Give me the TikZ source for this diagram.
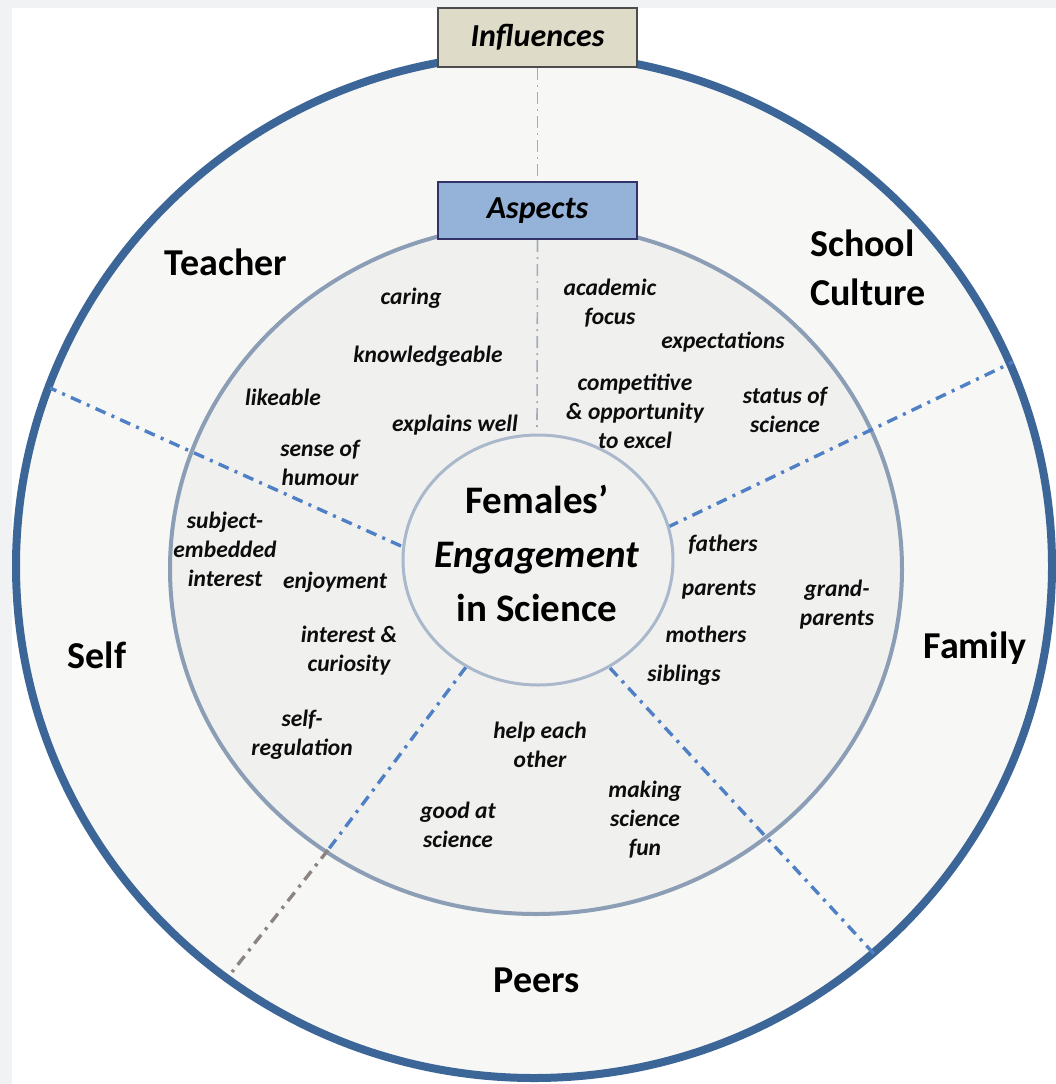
\documentclass[tikz,border=0pt]{standalone}
\usepackage{fontspec}
\setmainfont{Carlito}
\definecolor{framegray}{HTML}{F1F2F4}
\definecolor{outerfill}{HTML}{F7F7F5}
\definecolor{midfill}{HTML}{F0F0EF}
\definecolor{innerfill}{HTML}{F1F1F0}
\definecolor{outerline}{HTML}{3C6598}
\definecolor{midline}{HTML}{8C9DB6}
\definecolor{innerline}{HTML}{AAB8CB}
\definecolor{dashblue}{HTML}{4F7FC4}
\definecolor{dashbrown}{HTML}{8C8480}
\definecolor{vertgray}{HTML}{A5ACB8}
\definecolor{inflfill}{HTML}{DEDBC8}
\definecolor{aspfill}{HTML}{95B3D9}
\begin{document}
\begin{tikzpicture}[x=1pt,y=-1pt,
  lab/.style={font=\fontsize{23.5}{29}\selectfont\bfseries\itshape, align=center, inner sep=0pt, text=black!95},
  infl/.style={font=\fontsize{38}{49}\selectfont\bfseries, inner sep=0pt, text=black},
  divider/.style={line width=3.4pt, dash pattern=on 11pt off 6.5pt on 3pt off 6.5pt},
  vdiv/.style={draw=vertgray, line width=1.6pt, dash pattern=on 12pt off 5pt on 2pt off 5pt},
  headbox/.style={draw=black!70, line width=2pt, minimum width=199pt, inner sep=0pt,
                  font=\fontsize{32}{36}\selectfont\bfseries\itshape}]
\useasboundingbox (0,0) rectangle (1056,1084);
\fill[framegray] (0,0) rectangle (1056,1084);
\fill[white] (12,8) rectangle (1056,1084);
% rings
\draw[line width=8pt, draw=outerline, fill=outerfill] (534,566) ellipse [x radius=518pt, y radius=512pt];
\draw[line width=4pt, draw=midline, fill=midfill] (536,569) ellipse [x radius=366pt, y radius=345pt];
% divider coordinates
\coordinate (ulin) at (401,546);  \coordinate (ulout) at (50,388);
\coordinate (urin) at (668,527);  \coordinate (urout) at (1013,362);
\coordinate (llin) at (466,667);  \coordinate (llmid) at (328,850); \coordinate (llout) at (232,972);
\coordinate (lrin) at (610,668);  \coordinate (lrout) at (875,955);
\coordinate (vend) at (537,430);
\draw[divider, draw=dashblue] (ulin) -- (ulout);
\draw[divider, draw=dashblue] (urin) -- (urout);
\draw[divider, draw=dashblue] (llin) -- (llmid);
\draw[divider, draw=dashbrown] (llmid) -- (llout);
\draw[divider, draw=dashblue] (lrin) -- (lrout);
% centre
\draw[line width=3pt, draw=innerline, fill=innerfill] (538,560) ellipse [x radius=135pt, y radius=125pt];
\node[font=\fontsize{39}{54}\selectfont\bfseries, align=center, inner sep=0pt] (centre) at (537,553)
  {Females’\\\textit{Engagement}\\in Science};
% header boxes
\node[headbox, fill=inflfill, minimum height=59pt] (infl) at (537.5,37.5) {Influences};
\node[headbox, fill=aspfill, draw=black!65!blue!60!gray, minimum height=57pt] (asp) at (537.5,210.5) {Aspects};
\draw[vdiv] (infl.south) -- (asp.north);
\draw[vdiv] (asp.south) -- (vend);
% influences
\node[infl] (teacher) at (226,262) {Teacher};
\node[infl, align=left] (school) at (868,268) {School\\Culture};
\node[infl] (self) at (97,655) {Self};
\node[infl] (family) at (975,648) {Family};
\node[infl] (peers) at (537,980) {Peers};
% teacher aspects
\node[lab] (caring) at (411,298) {caring};
\node[lab] (knowl) at (428,356) {knowledgeable};
\node[lab] (likeable) at (283,397) {likeable};
\node[lab] (explains) at (455,425) {explains well};
\node[lab] (humour) at (320,463) {sense of\\humour};
% school culture aspects
\node[lab] (academic) at (610,303) {academic\\focus};
\node[lab] (expect) at (723,342) {expectations};
\node[lab] (compet) at (635,411) {competitive\\\& opportunity\\to excel};
\node[lab] (status) at (785,410) {status of\\science};
% self aspects
\node[lab] (subject) at (225,549) {subject-\\embedded\\interest};
\node[lab] (enjoy) at (335,582) {enjoyment};
\node[lab] (curious) at (349,651) {interest \&\\curiosity};
\node[lab] (selfreg) at (302,735) {self-\\regulation};
% family aspects
\node[lab] (fathers) at (723,545) {fathers};
\node[lab] (parents) at (719,590) {parents};
\node[lab] (grand) at (837,605) {grand-\\parents};
\node[lab] (mothers) at (706,634) {mothers};
\node[lab] (siblings) at (684,675) {siblings};
% peers aspects
\node[lab] (help) at (540,745) {help each\\other};
\node[lab] (good) at (458,825) {good at\\science};
\node[lab] (fun) at (645,820) {making\\science\\fun};
\end{tikzpicture}
\end{document}
